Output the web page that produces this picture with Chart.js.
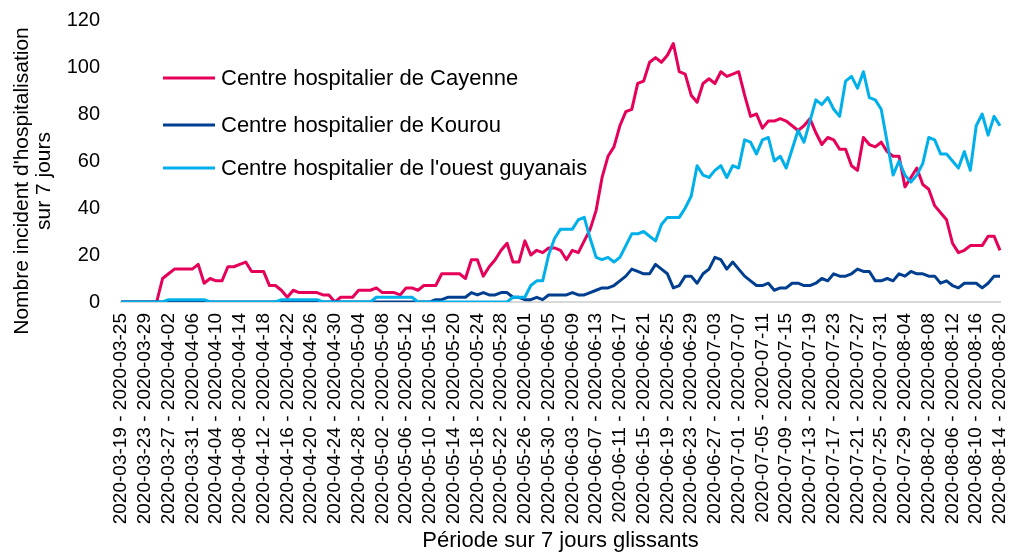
<!DOCTYPE html>
<html>
<head>
<meta charset="utf-8">
<script src="https://cdn.jsdelivr.net/npm/chart.js@4.4.1/dist/chart.umd.min.js"></script>
<style>
  html, body { margin: 0; padding: 0; background: #fff; }
  #wrap { width: 1009px; height: 554px; position: relative; }
</style>
</head>
<body>
<div id="wrap"><canvas id="hospChart"></canvas></div>
<script>
// 7-day sliding periods, 2020-03-19 to 2020-08-14 (start dates)
const firstStart = '2020-03-19';
const lastStart = '2020-08-14';

const seriesNames = [
    'Centre hospitalier de Cayenne',
    'Centre hospitalier de Kourou',
    "Centre hospitalier de l'ouest guyanais"
];

const cayenne = [
    0, 0, 0, 0, 0, 0, 0, 10, 12, 14,
    14, 14, 14, 16, 8, 10, 9, 9, 15, 15,
    16, 17, 13, 13, 13, 7, 7, 5, 2, 5,
    4, 4, 4, 4, 3, 3, 0, 2, 2, 2,
    5, 5, 5, 6, 4, 4, 4, 3, 6, 6,
    5, 7, 7, 7, 12, 12, 12, 12, 10, 18,
    18, 11, 15, 18, 22, 25, 17, 17, 26, 20,
    22, 21, 23, 23, 22, 18, 22, 21, 26, 31,
    39, 53, 62, 66, 75, 81, 82, 93, 94, 102,
    104, 102, 105, 110, 98, 97, 88, 85, 93, 95,
    93, 98, 96, 97, 98, 88, 79, 80, 74, 77,
    77, 78, 77, 75, 73, 75, 78, 72, 67, 70,
    69, 65, 65, 58, 56, 70, 67, 66, 68, 64,
    62, 62, 49, 53, 57, 50, 48, 41, 38, 35,
    25, 21, 22, 24, 24, 24, 28, 28, 22
];

const kourou = [
    0, 0, 0, 0, 0, 0, 0, 0, 0, 0,
    0, 0, 0, 0, 0, 0, 0, 0, 0, 0,
    0, 0, 0, 0, 0, 0, 0, 0, 0, 0,
    0, 0, 0, 0, 0, 0, 0, 0, 0, 0,
    0, 0, 0, 0, 0, 0, 0, 0, 0, 0,
    0, 0, 0, 1, 1, 2, 2, 2, 2, 4,
    3, 4, 3, 3, 4, 4, 2, 2, 1, 1,
    2, 1, 3, 3, 3, 3, 4, 3, 3, 4,
    5, 6, 6, 7, 9, 11, 14, 13, 12, 12,
    16, 14, 12, 6, 7, 11, 11, 8, 12, 14,
    19, 18, 14, 17, 14, 11, 9, 7, 7, 8,
    5, 6, 6, 8, 8, 7, 7, 8, 10, 9,
    12, 11, 11, 12, 14, 13, 13, 9, 9, 10,
    9, 12, 11, 13, 12, 12, 11, 11, 8, 9,
    7, 6, 8, 8, 8, 6, 8, 11, 11
];

const ouestGuyanais = [
    0, 0, 0, 0, 0, 0, 0, 0, 1, 1,
    1, 1, 1, 1, 1, 0, 0, 0, 0, 0,
    0, 0, 0, 0, 0, 0, 0, 1, 1, 1,
    1, 1, 1, 1, 0, 0, 0, 0, 0, 0,
    0, 0, 0, 2, 2, 2, 2, 2, 2, 2,
    0, 0, 0, 0, 0, 0, 0, 0, 0, 0,
    0, 0, 0, 0, 0, 0, 2, 2, 2, 7,
    9, 9, 20, 27, 31, 31, 31, 35, 36, 27,
    19, 18, 19, 17, 19, 24, 29, 29, 30, 28,
    26, 33, 36, 36, 36, 40, 45, 58, 54, 53,
    56, 58, 53, 58, 57, 69, 68, 63, 69, 70,
    60, 62, 57, 65, 73, 68, 77, 86, 84, 87,
    82, 79, 94, 96, 91, 98, 87, 86, 82, 68,
    54, 60, 54, 51, 54, 59, 70, 69, 63, 63,
    60, 57, 64, 56, 75, 80, 71, 79, 75
];

const yTicks = [0, 20, 40, 60, 80, 100, 120];
const yTitleLines = ["Nombre incident d'hospitalisation", 'sur 7 jours'];
const xTitle = 'Période sur 7 jours glissants';
const colors = ['#e5005a', '#003f8f', '#00b0ea'];

// build "start - end" labels for every day
function iso(d) { return d.toISOString().slice(0, 10); }
const periods = [];
for (let d = new Date(firstStart + 'T00:00:00Z'); iso(d) <= lastStart; d.setUTCDate(d.getUTCDate() + 1)) {
    const end = new Date(d.getTime() + 6 * 86400000);
    periods.push(iso(d) + ' - ' + iso(end));
}

const FONT = 'Arial, "Liberation Sans", sans-serif';
Chart.defaults.font.family = FONT;
Chart.defaults.font.size = 20;
Chart.defaults.color = '#000';

// legend inside the plot + y title placed like the original
const legendRowsY = [78, 125, 168];
const extras = {
    id: 'extras',
    afterDatasetsDraw(chart) {
        const ctx = chart.ctx;
        ctx.save();
        ctx.font = '22px ' + FONT;
        ctx.textBaseline = 'middle';
        ctx.lineWidth = 3;
        seriesNames.forEach(function (name, k) {
            const y = legendRowsY[k];
            ctx.strokeStyle = colors[k];
            ctx.beginPath();
            ctx.moveTo(163, y);
            ctx.lineTo(215, y);
            ctx.stroke();
            ctx.fillStyle = '#000';
            ctx.fillText(name, 221, y + 1);
        });

        ctx.font = '21px ' + FONT;
        ctx.textAlign = 'center';
        ctx.translate(0, 181);
        ctx.rotate(-Math.PI / 2);
        ctx.fillText(yTitleLines[0], 0, 22);
        ctx.fillText(yTitleLines[1], 0, 44);
        ctx.restore();
    }
};

const allSeries = [cayenne, kourou, ouestGuyanais];

const config = {
    type: 'line',
    data: {
        labels: periods,
        datasets: allSeries.map(function (vals, k) {
            return {
                label: seriesNames[k],
                data: vals,
                borderColor: colors[k],
                backgroundColor: colors[k],
                borderWidth: 3,
                pointRadius: 0,
                tension: 0,
                borderJoinStyle: 'round',
                order: 2 - k
            };
        })
    },
    options: {
        responsive: true,
        maintainAspectRatio: false,
        animation: false,
        layout: { padding: { top: 20, right: 9, left: 0, bottom: 0 } },
        plugins: {
            legend: { display: false },
            tooltip: { enabled: false }
        },
        scales: {
            x: {
                grid: { display: false, drawTicks: false },
                border: { display: true, color: '#d9d9d9', width: 2 },
                ticks: {
                    autoSkip: false,
                    maxRotation: 90,
                    minRotation: 90,
                    padding: 11,
                    font: { size: 19 },
                    callback: function (val, idx) {
                        return idx % 4 === 0 ? this.getLabelForValue(val) : '';
                    }
                },
                title: {
                    display: true,
                    text: xTitle,
                    font: { size: 22 },
                    padding: { top: 0, bottom: 0 }
                },
                afterFit: function (s) {
                    s.height = 252;
                    s.paddingLeft = 0;
                    s.paddingRight = 0;
                }
            },
            y: {
                min: 0,
                max: 120,
                grid: { display: false, drawTicks: false },
                border: { display: false },
                afterBuildTicks: function (s) {
                    s.ticks = yTicks.map(function (v) { return { value: v }; });
                },
                ticks: { padding: 21, font: { size: 20 } },
                afterFit: function (s) {
                    s.width = 121;
                    s.paddingTop = 0;
                    s.paddingBottom = 0;
                }
            }
        }
    },
    plugins: [extras]
};

const hospChart = new Chart(document.getElementById('hospChart'), config);
</script>
</body>
</html>
